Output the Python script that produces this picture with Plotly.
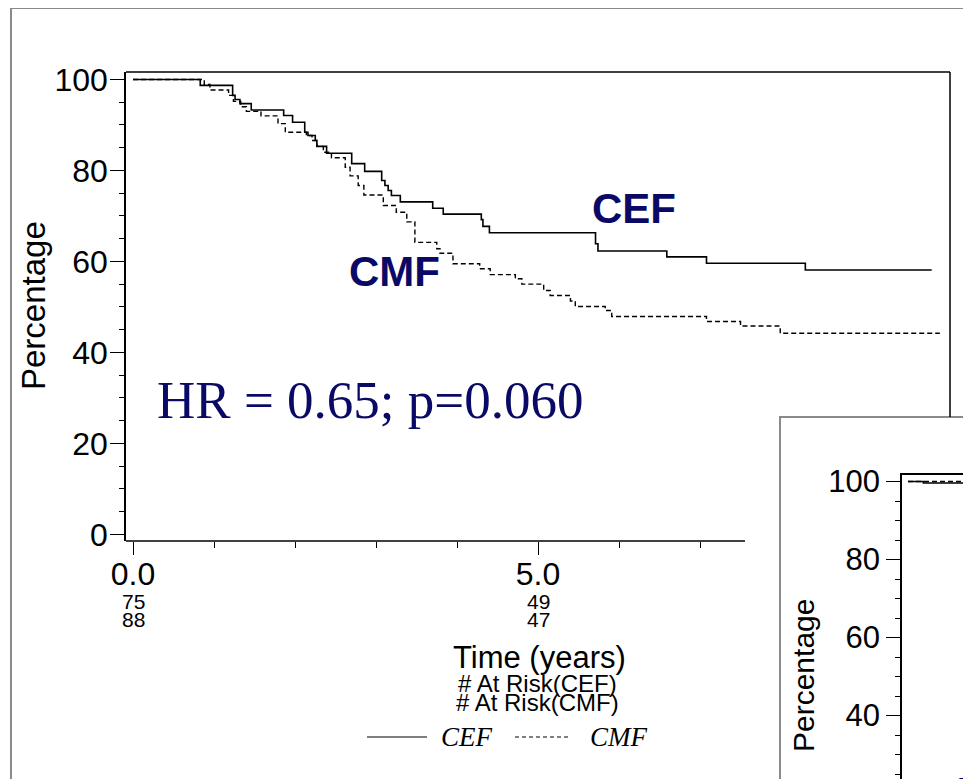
import plotly.graph_objects as go

# ---------------- data ----------------
cef_t = [0, 0.83, 1.23, 1.26, 1.32, 1.46, 1.86, 1.97, 2.12, 2.16, 2.25, 2.27, 2.39,
         2.70, 2.86, 3.07, 3.11, 3.15, 3.19, 3.30, 3.70, 3.83, 4.30, 4.32, 4.40,
         5.71, 5.74, 6.59, 7.08, 8.30, 9.86]
cef_v = [100, 98.7, 96.5, 95.6, 94.7, 93.3, 92.1, 90.6, 88.4, 87.7, 86.6, 85.3, 83.8,
         81.5, 79.8, 77.8, 76.7, 75.6, 74.5, 73.1, 71.7, 70.4, 69.2, 67.7, 66.3,
         63.9, 62.3, 61.0, 59.6, 58.1, 58.1]

cmf_t = [0, 0.88, 0.95, 1.18, 1.24, 1.33, 1.40, 1.58, 1.79, 1.88, 2.14, 2.21, 2.27,
         2.35, 2.45, 2.62, 2.68, 2.78, 2.85, 3.09, 3.25, 3.38, 3.48, 3.75, 3.79,
         3.95, 4.28, 4.41, 4.72, 4.80, 5.07, 5.15, 5.40, 5.46, 5.83, 5.91, 7.08,
         7.50, 7.99, 9.96]
cmf_v = [100, 98.9, 97.7, 96.5, 95.2, 94.0, 93.0, 92.0, 90.3, 88.4, 87.7, 86.6, 85.3,
         84.0, 82.8, 80.7, 78.8, 76.7, 74.6, 72.3, 70.8, 68.7, 64.2, 62.8, 61.8,
         59.5, 58.4, 57.1, 56.2, 55.0, 53.6, 52.5, 51.3, 50.1, 49.2, 47.9, 46.8,
         45.8, 44.2, 44.2]

risk_t = [0, 5]
risk_cef = [75, 49]
risk_cmf = [88, 47]

x_tickvals = [0, 5]
x_ticktext = ["0.0", "5.0"]
x_minor = [1, 2, 3, 4, 6, 7]
y_tickvals = [0, 20, 40, 60, 80, 100]

inset_y_ticks = [40, 60, 80, 100]
inset_cef_t = [0, 0.22, 1.0]
inset_cef_v = [100, 99.6, 99.6]
inset_cmf_t = [0, 1.0]
inset_cmf_v = [100, 100]

hr_text = "HR = 0.65; p=0.060"

# ---------------- layout helpers ----------------
W, H = 971, 779
OFF = 8  # page body margin compensation
def px(x):
    return (x - OFF) / W
def py(y):
    return 1 - (y - OFF) / H

SANS = "Liberation Sans, Arial, sans-serif"
SERIF = "Liberation Serif, Times New Roman, serif"
NAVY = "#0a0a66"

fig = go.Figure()
fig.add_trace(go.Scatter(x=cef_t, y=cef_v, mode="lines", name="CEF",
                         line=dict(shape="hv", color="black", width=1.6),
                         xaxis="x", yaxis="y", showlegend=False))
fig.add_trace(go.Scatter(x=cmf_t, y=cmf_v, mode="lines", name="CMF",
                         line=dict(shape="hv", color="black", width=1.4, dash="5px,3px"),
                         xaxis="x", yaxis="y", showlegend=False))
fig.add_trace(go.Scatter(x=inset_cef_t, y=inset_cef_v, mode="lines",
                         line=dict(shape="hv", color="black", width=1.4),
                         xaxis="x2", yaxis="y2", showlegend=False))
fig.add_trace(go.Scatter(x=inset_cmf_t, y=inset_cmf_v, mode="lines",
                         line=dict(shape="hv", color="black", width=1.4, dash="5px,3px"),
                         xaxis="x2", yaxis="y2", showlegend=False))

shapes = [
    # slide frame
    dict(type="line", xref="paper", yref="paper", x0=px(11), x1=px(990), y0=py(8), y1=py(8),
         line=dict(color="#8a8a8a", width=2)),
    dict(type="line", xref="paper", yref="paper", x0=px(11), x1=px(11), y0=py(8), y1=py(800),
         line=dict(color="#8a8a8a", width=2)),
    # inset panel
    dict(type="rect", xref="paper", yref="paper", x0=px(780), x1=px(1000), y0=py(417), y1=py(810),
         fillcolor="white", line=dict(color="#8a8a8a", width=2), layer="below"),
    # main plot frame
    dict(type="line", xref="paper", yref="paper", x0=px(126), x1=px(950), y0=py(72), y1=py(72),
         line=dict(color="black", width=1.5)),
    dict(type="line", xref="paper", yref="paper", x0=px(950), x1=px(950), y0=py(72), y1=py(417),
         line=dict(color="black", width=1.5)),
    dict(type="line", xref="paper", yref="paper", x0=px(126), x1=px(745), y0=py(541), y1=py(541),
         line=dict(color="black", width=1.5)),
    # legend glyphs
    dict(type="line", xref="paper", yref="paper", x0=px(367), x1=px(427), y0=py(737), y1=py(737),
         line=dict(color="black", width=1.2)),
    dict(type="line", xref="paper", yref="paper", x0=px(515), x1=px(570), y0=py(737), y1=py(737),
         line=dict(color="black", width=1.2, dash="4px,3px")),
]

def A(text, x, y, size, family=SANS, color="black", xref="paper", xanchor="center",
      yanchor="middle", angle=0):
    return dict(text=text, x=x, y=y, xref=xref, yref="paper", xanchor=xanchor,
                yanchor=yanchor, textangle=angle, showarrow=False,
                font=dict(family=family, size=size, color=color))

ann = []
ann.append(A("Percentage", px(33), py(306), 33, angle=-90))
for t, a, b in zip(risk_t, risk_cef, risk_cmf):
    ann.append(A(str(a), t, py(601), 21, xref="x"))
    ann.append(A(str(b), t, py(619), 21, xref="x"))
ann.append(A("Time (years)", px(539), py(657), 31))
ann.append(A("# At Risk(CEF)", px(537), py(683), 24))
ann.append(A("# At Risk(CMF)", px(537), py(702), 24))
ann.append(A("<i>CEF</i>", px(439), py(737), 27, family=SERIF, xanchor="left"))
ann.append(A("<i>CMF</i>", px(588), py(737), 27, family=SERIF, xanchor="left"))
ann.append(A(hr_text, px(155), py(400), 53, family=SERIF, color=NAVY, xanchor="left"))
ann.append(A("<b>CEF</b>", px(634), py(208), 42, color=NAVY))
ann.append(A("<b>CMF</b>", px(394), py(272), 42, color=NAVY))
ann.append(A("Percentage", px(803), py(676), 30, angle=-90))
ann.append(A("H", px(956), py(793), 49, family=SERIF, color=NAVY, xanchor="left", yanchor="middle"))

# inset axis ranges (page pixel -> value), inset scale
in_top_px, in_bot_px = 475, H + OFF
in_y100_px, in_px_per_unit = 481.5, 3.9
in_left_px, in_right_px = 902, W + OFF
in_t0_px, in_px_per_year = 908, 69.5
inset_yrange = [100 - (in_bot_px - in_y100_px) / in_px_per_unit,
                100 + (in_y100_px - in_top_px) / in_px_per_unit]
inset_xrange = [(in_left_px - in_t0_px) / in_px_per_year,
                (in_right_px - in_t0_px) / in_px_per_year]

fig.update_layout(
    template="none",
    width=W, height=H, margin=dict(l=0, r=0, t=0, b=0, pad=0, autoexpand=False),
    paper_bgcolor="white", plot_bgcolor="rgba(0,0,0,0)",
    shapes=shapes, annotations=ann, showlegend=False,
    xaxis=dict(domain=[px(126), px(950)], range=[-0.0864, 10.086], anchor="y",
               automargin=False, showline=False, showgrid=False, zeroline=False,
               ticks="outside", tickvals=x_tickvals, ticktext=x_ticktext,
               ticklen=13, tickwidth=1.2, tickcolor="black", ticklabelstandoff=-8,
               tickfont=dict(family=SANS, size=32, color="black"),
               minor=dict(tickvals=x_minor, ticks="outside", ticklen=6,
                          tickwidth=1.2, tickcolor="black")),
    yaxis=dict(domain=[py(541), py(72)], range=[-1.47, 101.65], anchor="x",
               automargin=False, showline=True, linecolor="black", linewidth=1.5,
               showgrid=False, zeroline=False, ticklabelstandoff=-4,
               ticks="outside", tickvals=y_tickvals, ticklen=14, tickwidth=1.2,
               tickcolor="black", tickfont=dict(family=SANS, size=32, color="black"),
               minor=dict(dtick=5, tick0=0, ticks="outside", ticklen=5,
                          tickwidth=1.2, tickcolor="black")),
    xaxis2=dict(domain=[px(902), 1.0], range=inset_xrange, anchor="y2", side="top",
                automargin=False, showline=True, linecolor="black", linewidth=1.5,
                showgrid=False, zeroline=False, showticklabels=False, ticks=""),
    yaxis2=dict(domain=[0.0, py(475)], range=inset_yrange, anchor="x2",
                automargin=False, showline=True, linecolor="black", linewidth=1.5,
                showgrid=False, zeroline=False,
                ticks="outside", tickvals=inset_y_ticks, ticklen=14, tickwidth=1.2,
                tickcolor="black", tickfont=dict(family=SANS, size=31, color="black"),
                minor=dict(dtick=5, tick0=0, ticks="outside", ticklen=5,
                           tickwidth=1.2, tickcolor="black")),
)

fig.write_html("out.html")
